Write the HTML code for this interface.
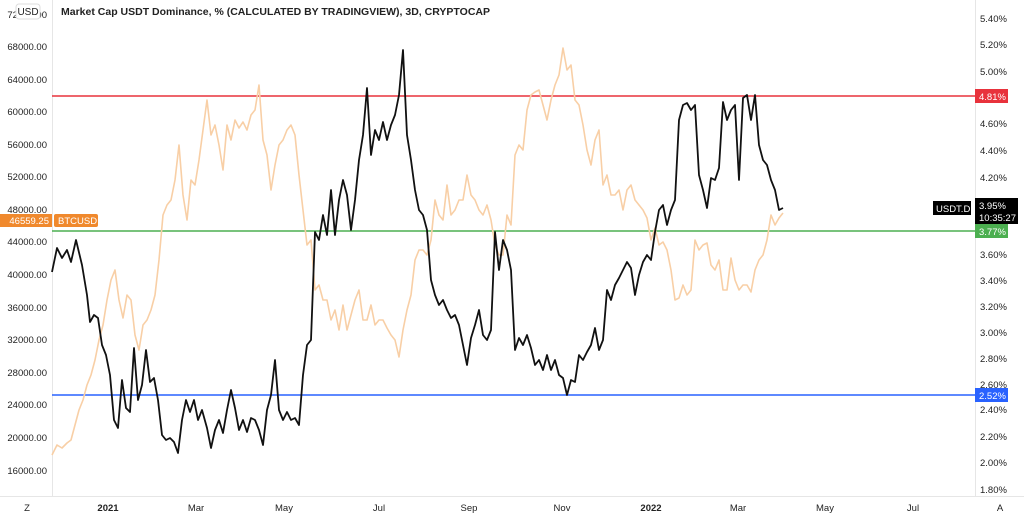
<!DOCTYPE html>
<html><head><meta charset="utf-8"><style>
html,body{margin:0;padding:0;background:#fff;width:1024px;height:518px;overflow:hidden;font-family:"Liberation Sans",sans-serif}
svg text{font-family:"Liberation Sans",sans-serif}
</style></head><body>
<svg width="1024" height="518" xmlns="http://www.w3.org/2000/svg">
<rect width="1024" height="518" fill="#fff"/>
<line x1="52.5" y1="0" x2="52.5" y2="496" stroke="#e6e6e6"/>
<line x1="975.5" y1="0" x2="975.5" y2="496" stroke="#e6e6e6"/>
<line x1="0" y1="496.5" x2="1024" y2="496.5" stroke="#e6e6e6"/>
<g font-size="9.5" fill="#222" text-anchor="end">
<text x="47" y="50">68000.00</text><text x="47" y="83">64000.00</text><text x="47" y="115">60000.00</text>
<text x="47" y="148">56000.00</text><text x="47" y="180">52000.00</text><text x="47" y="213">48000.00</text>
<text x="47" y="245">44000.00</text><text x="47" y="278">40000.00</text><text x="47" y="311">36000.00</text>
<text x="47" y="343">32000.00</text><text x="47" y="376">28000.00</text><text x="47" y="408">24000.00</text>
<text x="47" y="441">20000.00</text><text x="47" y="474">16000.00</text><text x="47" y="18">72000.00</text>
</g>
<g font-size="9.5" fill="#222">
<text x="980" y="22">5.40%</text><text x="980" y="48">5.20%</text><text x="980" y="75">5.00%</text>
<text x="980" y="127">4.60%</text><text x="980" y="154">4.40%</text><text x="980" y="181">4.20%</text>
<text x="980" y="206">4.00%</text><text x="980" y="258">3.60%</text><text x="980" y="284">3.40%</text>
<text x="980" y="310">3.20%</text><text x="980" y="336">3.00%</text><text x="980" y="362">2.80%</text>
<text x="980" y="388">2.60%</text><text x="980" y="413">2.40%</text><text x="980" y="440">2.20%</text>
<text x="980" y="466">2.00%</text><text x="980" y="493">1.80%</text>
</g>
<g font-size="9.5" fill="#222" text-anchor="middle">
<text x="108" y="511" font-weight="bold">2021</text><text x="196" y="511">Mar</text><text x="284" y="511">May</text>
<text x="379" y="511">Jul</text><text x="469" y="511">Sep</text><text x="562" y="511">Nov</text>
<text x="651" y="511" font-weight="bold">2022</text><text x="738" y="511">Mar</text><text x="825" y="511">May</text>
<text x="913" y="511">Jul</text><text x="27" y="511">Z</text><text x="1000" y="511">A</text>
</g>
<rect x="16" y="4" width="24" height="15" rx="3" fill="#fff" stroke="#ddd"/>
<text x="28" y="15" font-size="10" text-anchor="middle" fill="#222">USD</text>
<text x="61" y="15" font-size="10.5" font-weight="bold" fill="#222">Market Cap USDT Dominance, % (CALCULATED BY TRADINGVIEW), 3D, CRYPTOCAP</text>
<line x1="52" y1="96" x2="975" y2="96" stroke="#e8323c" stroke-width="1.5"/>
<line x1="52" y1="231" x2="975" y2="231" stroke="#4caf50" stroke-width="1.5"/>
<line x1="52" y1="395" x2="975" y2="395" stroke="#2962ff" stroke-width="1.5"/>
<polyline fill="none" stroke="#f8cfa6" stroke-width="1.6" stroke-linejoin="round" points="52,455 57,445 62,448 67,443 71,440 75,425 79,410 83,400 87,385 91,375 95,360 99,340 103,325 107,300 111,280 115,270 119,300 123,318 127,295 131,300 135,335 139,350 143,325 147,320 151,310 155,295 159,260 163,215 167,205 171,200 175,180 179,145 183,195 187,220 191,180 195,185 199,160 203,130 207,100 211,135 215,125 219,145 223,170 227,125 231,140 235,120 239,128 243,122 247,130 251,115 255,110 259,85 263,140 267,155 271,190 275,165 279,145 283,140 287,130 291,125 295,135 299,175 303,210 307,245 311,240 315,290 319,285 323,300 327,300 331,320 335,310 339,330 343,305 347,330 351,315 355,300 359,290 363,320 367,320 371,305 375,325 379,320 383,320 387,328 391,335 395,340 399,357 403,330 407,310 411,295 415,260 419,250 423,250 427,255 431,240 435,200 439,215 443,220 447,185 451,215 455,210 459,200 463,200 467,175 471,195 475,200 479,210 483,215 487,205 491,220 495,245 499,255 503,255 507,215 511,225 515,155 519,145 523,150 527,110 531,95 535,92 539,90 543,105 547,120 551,100 555,85 559,75 563,48 567,70 571,65 575,100 579,105 583,125 587,150 591,165 595,140 599,130 603,185 607,175 611,195 615,195 619,190 623,210 627,190 631,185 635,200 639,205 643,210 647,218 651,240 655,228 659,245 663,242 667,250 671,270 675,300 679,298 683,285 687,295 691,290 695,240 699,250 703,245 707,243 711,265 715,270 719,260 723,290 727,290 731,258 735,280 739,290 743,285 747,285 751,292 755,270 759,260 763,255 767,240 771,215 775,225 779,218 783,213"/>
<polyline fill="none" stroke="#111" stroke-width="1.8" stroke-linejoin="round" points="52,272 57,248 62,258 67,250 71,262 76,240 82,265 87,295 90,322 94,315 98,318 102,345 106,355 110,375 114,420 118,428 122,380 126,408 130,412 134,348 138,400 142,385 146,350 150,382 154,378 158,400 162,435 166,440 170,438 174,442 178,453 182,420 186,400 190,412 194,400 198,420 202,410 207,428 211,448 215,430 219,420 223,433 227,410 231,390 235,408 239,430 243,420 247,432 251,418 255,420 259,430 263,445 267,410 271,395 275,360 279,410 283,420 287,412 291,420 295,418 299,425 303,375 307,345 311,340 315,232 319,240 323,215 327,235 331,190 335,235 339,200 343,180 347,195 351,230 355,200 359,160 363,135 367,88 371,155 375,130 379,140 383,122 387,140 391,125 395,115 399,95 403,50 407,135 411,160 415,190 419,210 423,215 427,230 431,280 435,295 439,305 443,300 447,310 451,318 455,315 459,325 463,345 467,365 471,338 475,325 479,310 483,335 487,340 491,330 495,232 499,270 503,240 507,250 511,270 515,350 519,338 523,345 527,335 531,348 535,365 539,360 543,370 547,355 551,370 555,360 559,375 563,378 567,395 571,380 575,382 579,355 583,360 587,352 591,345 595,328 599,350 603,340 607,290 611,300 615,285 619,278 623,270 627,262 631,268 635,295 639,275 643,262 647,255 651,260 655,232 659,210 663,205 667,225 671,210 675,200 679,120 683,105 687,103 691,110 695,105 699,175 703,190 707,208 711,178 715,180 719,168 723,102 727,120 731,110 735,105 739,180 743,98 747,95 751,120 755,95 759,145 763,160 767,165 771,180 775,190 779,210 783,208"/>
<rect x="0" y="214" width="52" height="13" fill="#f0892d"/>
<text x="49" y="224" font-size="9.5" fill="#fff" text-anchor="end">46559.25</text>
<rect x="54" y="214" width="44" height="13" rx="2" fill="#f0892d"/>
<text x="58" y="224" font-size="9.5" fill="#fff">BTCUSD</text>
<rect x="975" y="89" width="33" height="14" fill="#e8323c"/>
<text x="979" y="100" font-size="9.5" fill="#fff">4.81%</text>
<rect x="975" y="224" width="33" height="14" fill="#4caf50"/>
<text x="979" y="235" font-size="9.5" fill="#fff">3.77%</text>
<rect x="975" y="388" width="33" height="14" fill="#2962ff"/>
<text x="979" y="399" font-size="9.5" fill="#fff">2.52%</text>
<rect x="933" y="201" width="38" height="14" fill="#000"/>
<text x="936" y="212" font-size="9.5" fill="#fff">USDT.D</text>
<rect x="975" y="198" width="43" height="26" fill="#000"/>
<text x="979" y="209" font-size="9.5" fill="#fff">3.95%</text>
<text x="979" y="221" font-size="9.5" fill="#fff">10:35:27</text>
</svg>
</body></html>
